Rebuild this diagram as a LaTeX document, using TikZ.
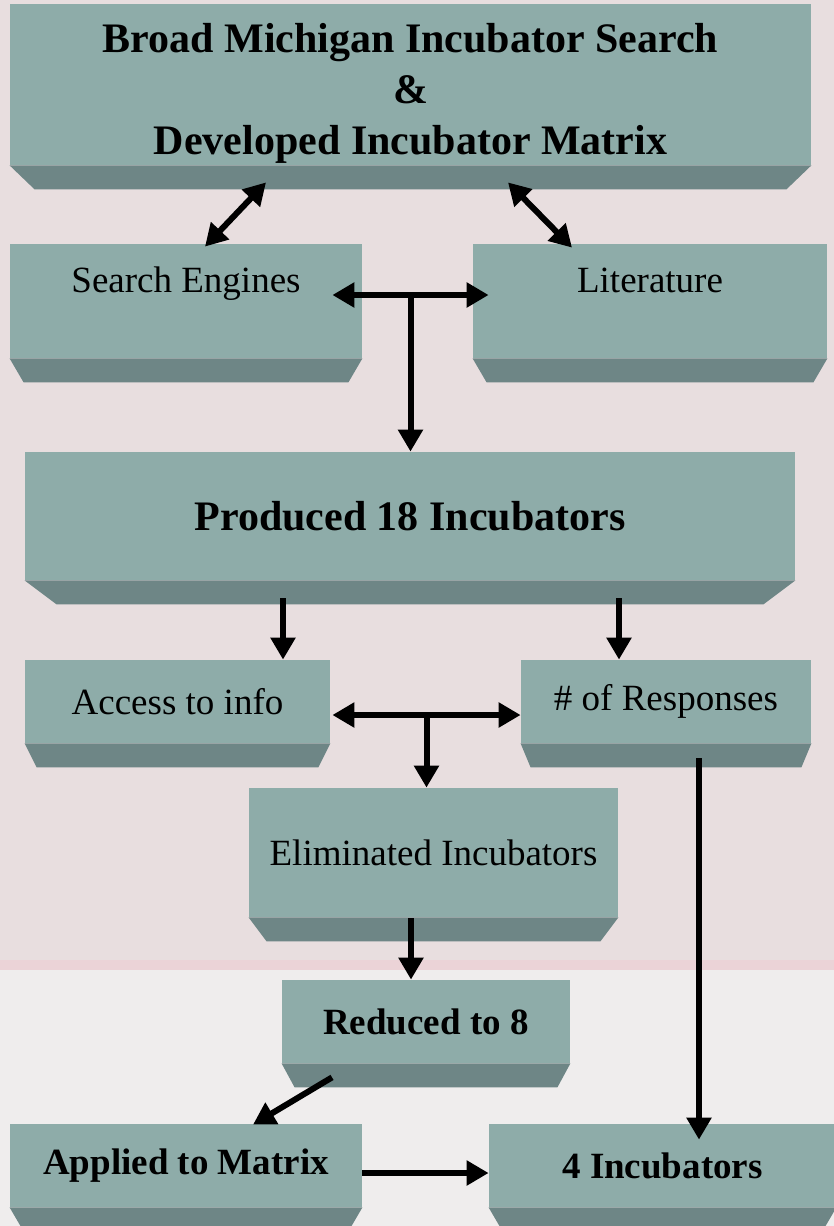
\documentclass[tikz,border=0pt]{standalone}
\usepackage{fontspec}
\setmainfont{Liberation Serif}
\usetikzlibrary{arrows.meta}
\definecolor{boxface}{HTML}{8EACA9}
\definecolor{boxedge}{HTML}{6E8686}
\definecolor{backdrop}{HTML}{E8DEDF}
\definecolor{lowdrop}{HTML}{EFEDED}
\definecolor{band}{HTML}{EBD3D7}

\begin{document}
\begin{tikzpicture}[x=0.5pt,y=-0.5pt,
        blk/.style={fill=boxface, inner sep=0pt, align=center, font=\fontsize{18.5}{22}\selectfont},
        bblk/.style={blk, font=\fontsize{21}{25.5}\selectfont\bfseries},
        sblk/.style={blk, font=\fontsize{18.5}{22}\selectfont\bfseries},
        arr/.style={line width=3pt, -{Triangle[length=11pt,width=12pt]}},
        dbl/.style={line width=3pt, {Triangle[length=11pt,width=12pt]}-{Triangle[length=11pt,width=12pt]}}]
        \useasboundingbox (0,0) rectangle (834,1226);
        \clip (0,0) rectangle (834,1226);
        \fill[backdrop] (0,0) rectangle (834,1226);
        \fill[lowdrop] (0,970) rectangle (834,1226);
        \fill[band] (0,960) rectangle (834,970);

        \node[bblk, minimum width=400.5pt, minimum height=80.5pt, text height=74pt] (top) at (410.5,84.5) {Broad Michigan Incubator Search\\\&\\Developed Incubator Matrix};
        \node[blk, minimum width=176pt, minimum height=57pt, text depth=21pt] (search) at (186,301) {Search Engines};
        \node[blk, minimum width=177pt, minimum height=57pt, text depth=21pt] (lit) at (650,301) {Literature};
        \node[bblk, minimum width=385pt, minimum height=64pt] (prod) at (410,516) {Produced 18 Incubators};
        \node[blk, minimum width=152.5pt, minimum height=41.5pt] (acc) at (177.5,701.5) {Access to info};
        \node[blk, minimum width=145pt, minimum height=41.5pt] (resp) at (666,701.5) {\# of Responses};
        \node[blk, minimum width=184.5pt, minimum height=64.5pt] (elim) at (433.5,852.5) {Eliminated Incubators};
        \node[sblk, minimum width=144pt, minimum height=41.5pt] (red) at (426,1021.5) {Reduced to 8};
        \node[sblk, minimum width=176pt, minimum height=41.5pt] (app) at (186,1165.5) {Applied to Matrix};
        \node[sblk, minimum width=173.5pt, minimum height=41.5pt] (four) at (662.5,1165.5) {4 Incubators};

        \foreach \n/\d in {top/12.5, search/7, lit/7, prod/16, acc/6, resp/5, elim/9, red/6.5, app/7, four/7} {
                \fill[boxedge] (\n.south west) -- (\n.south east) -- ([xshift=-\d pt,yshift=-12pt]\n.south east) -- ([xshift=\d pt,yshift=-12pt]\n.south west) -- cycle;
            }

        \draw[dbl] ([xshift=-72.25pt,yshift=-8.5pt]top.south) -- ([xshift=9.5pt,yshift=-1.5pt]search.north);
        \draw[dbl] ([xshift=48.75pt,yshift=-8.5pt]top.south) -- ([xshift=-39pt,yshift=-2pt]lit.north);
        \draw[dbl] ([xshift=-15pt,yshift=3pt]search.east) -- coordinate[midway] (j1) ([xshift=8pt,yshift=3pt]lit.west);
        \draw[arr] (j1) -- (j1 |- prod.north);

        \draw[arr] ([xshift=-63.5pt,yshift=-9pt]prod.south) -- ([xshift=52.75pt]acc.north);
        \draw[arr] ([xshift=104.5pt,yshift=-9pt]prod.south) -- ([xshift=-23.5pt]resp.north);
        \draw[dbl] ([xshift=1pt,yshift=-6.75pt]acc.east) -- coordinate[midway] (j2) ([yshift=-6.75pt]resp.west);
        \draw[arr] (j2) -- (j2 |- elim.north);

        \draw[arr] ([xshift=16.5pt,yshift=-7.5pt]resp.south) -- ([xshift=18.25pt,yshift=-8pt]four.north);
        \draw[arr] ([xshift=-11.25pt,yshift=-0.5pt]elim.south) -- ([xshift=-7.5pt]red.north);
        \draw[arr] ([xshift=-47pt,yshift=-7pt]red.south) -- ([xshift=33.5pt,yshift=-0.5pt]app.north);
        \draw[arr] ([yshift=-3.75pt]app.east) -- ([yshift=-3.75pt]four.west);
    \end{tikzpicture}
\end{document}
